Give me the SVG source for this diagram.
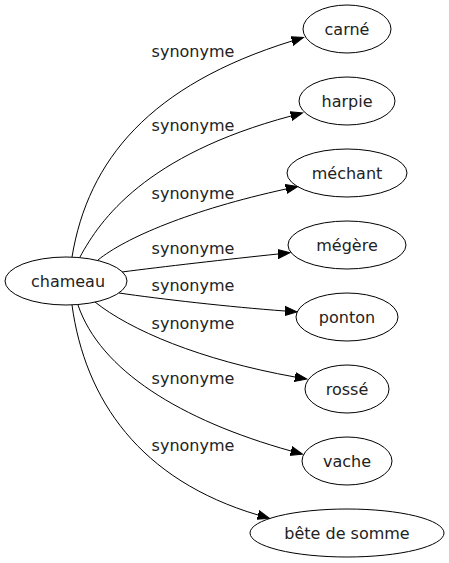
<svg xmlns="http://www.w3.org/2000/svg" width="449" height="563" viewBox="0 0 449 563">
<defs>
<style>
.node ellipse{fill:none;stroke:#000;stroke-width:1}
.node text{font-family:"DejaVu Sans",sans-serif;font-size:16px;text-anchor:middle;fill:#222}
.edge path{fill:none;stroke:#000;stroke-width:1;marker-end:url(#arr)}
.edge text{font-family:"DejaVu Sans",sans-serif;font-size:16px;text-anchor:middle;fill:#222}
</style>
<marker id="arr" markerUnits="userSpaceOnUse" markerWidth="14" markerHeight="12" refX="0" refY="0" viewBox="0 -6 14 12" orient="auto">
<path d="M0,-4.5 L12,0 L0,4.5 z" fill="#000" stroke="#000" stroke-width="1"/>
</marker>
</defs>
<rect width="449" height="563" fill="#fff"/>
<g id="edges">
<g class="edge"><path d="M72,257 C88,160 150,85 292,41"/><text x="193" y="57">synonyme</text></g>
<g class="edge"><path d="M80,257 C100,220 145,155 291,116"/><text x="193" y="131">synonyme</text></g>
<g class="edge"><path d="M98,260 C125,238 190,210 286,189"/><text x="193" y="199">synonyme</text></g>
<g class="edge"><path d="M122,272 C160,267 230,259 278,254"/><text x="193" y="254">synonyme</text></g>
<g class="edge"><path d="M119,293 C160,299 230,307 285,311"/><text x="193" y="291">synonyme</text></g>
<g class="edge"><path d="M95,302 C130,330 200,360 295,377"/><text x="193" y="329">synonyme</text></g>
<g class="edge"><path d="M78,305 C100,370 180,420 291,451"/><text x="193" y="384">synonyme</text></g>
<g class="edge"><path d="M72,305 C85,400 140,480 258,515"/><text x="193" y="451">synonyme</text></g>
</g>
<g id="chameau" class="node"><ellipse cx="66" cy="281" rx="61" ry="24"/><text x="68" y="286.5">chameau</text></g>
<g id="carne" class="node"><ellipse cx="347" cy="29" rx="44" ry="24"/><text x="347" y="34.5">carné</text></g>
<g id="harpie" class="node"><ellipse cx="347" cy="101" rx="48" ry="24"/><text x="347" y="106.5">harpie</text></g>
<g id="mechant" class="node"><ellipse cx="347" cy="173" rx="60" ry="24"/><text x="347" y="178.5">méchant</text></g>
<g id="megere" class="node"><ellipse cx="347" cy="245" rx="59" ry="24"/><text x="347" y="250.5">mégère</text></g>
<g id="ponton" class="node"><ellipse cx="347" cy="317" rx="51" ry="24"/><text x="347" y="322.5">ponton</text></g>
<g id="rosse" class="node"><ellipse cx="347" cy="389" rx="42" ry="24"/><text x="347" y="394.5">rossé</text></g>
<g id="vache" class="node"><ellipse cx="347" cy="461" rx="45" ry="24"/><text x="347" y="466.5">vache</text></g>
<g id="bete" class="node"><ellipse cx="347" cy="533" rx="97" ry="24"/><text x="347" y="538.5">bête de somme</text></g>
</svg>
